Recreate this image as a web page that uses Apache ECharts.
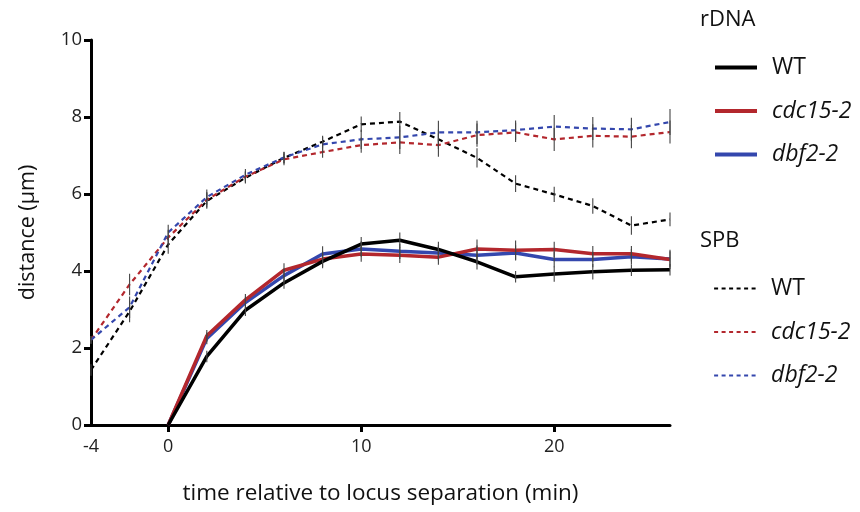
<!DOCTYPE html>
<html>
<head>
<meta charset="utf-8">
<script src="https://cdn.jsdelivr.net/npm/echarts@6/dist/echarts.min.js"></script>
<style>html,body{margin:0;padding:0;background:#fff}#c{width:860px;height:512px}</style>
</head>
<body>
<div id="c"></div>
<script>
// ---- data ----
const spbTimes = [-4, -2, 0, 2, 4, 6, 8, 10, 12, 14, 16, 18, 20, 22, 24, 26];
const rdnaTimes = [0, 2, 4, 6, 8, 10, 12, 14, 16, 18, 20, 22, 24, 26];

const rdnaWT    = [0, 1.78, 2.98, 3.69, 4.25, 4.70, 4.80, 4.56, 4.24, 3.85, 3.92, 3.98, 4.02, 4.03];
const rdnaCdc15 = [0, 2.32, 3.25, 4.02, 4.31, 4.44, 4.41, 4.36, 4.57, 4.54, 4.56, 4.45, 4.45, 4.30];
const rdnaDbf2  = [0, 2.25, 3.18, 3.88, 4.44, 4.57, 4.51, 4.47, 4.41, 4.47, 4.30, 4.30, 4.37, 4.31];

const spbWT    = [1.43, 2.95, 4.69, 5.82, 6.42, 6.94, 7.36, 7.81, 7.88, 7.42, 6.94, 6.27, 5.99, 5.69, 5.18, 5.34];
const spbCdc15 = [2.21, 3.65, 4.87, 5.85, 6.45, 6.90, 7.09, 7.27, 7.34, 7.27, 7.53, 7.60, 7.42, 7.51, 7.49, 7.61];
const spbDbf2  = [2.21, 3.06, 5.00, 5.92, 6.50, 6.95, 7.29, 7.42, 7.47, 7.60, 7.60, 7.66, 7.75, 7.70, 7.68, 7.87];

// error half-widths (estimated)
const rdnaWTErr    = [0, 0.15, 0.15, 0.15, 0.18, 0.18, 0.2, 0.2, 0.2, 0.15, 0.2, 0.2, 0.15, 0.15];
const rdnaCdc15Err = [0, 0.15, 0.15, 0.18, 0.2, 0.2, 0.2, 0.2, 0.25, 0.25, 0.2, 0.2, 0.2, 0.25];
const rdnaDbf2Err  = [0, 0.15, 0.15, 0.18, 0.2, 0.2, 0.2, 0.2, 0.25, 0.2, 0.2, 0.2, 0.2, 0.2];
const spbWTErr    = [0.15, 0.28, 0.24, 0.2, 0.15, 0.15, 0.15, 0.2, 0.25, 0.25, 0.25, 0.22, 0.2, 0.2, 0.24, 0.18];
const spbCdc15Err = [0.1, 0.28, 0.2, 0.2, 0.15, 0.15, 0.15, 0.2, 0.3, 0.3, 0.3, 0.25, 0.3, 0.3, 0.3, 0.3];
const spbDbf2Err  = [0.1, 0.28, 0.2, 0.2, 0.15, 0.15, 0.2, 0.25, 0.3, 0.3, 0.3, 0.25, 0.3, 0.3, 0.3, 0.34];

const xLabelValues = [-4, 0, 10, 20];
const xTickValues = [0, 10, 20];

const BLACK = '#000000', RED = '#b3272d', BLUE = '#3447ad';
const FONT = 'Open Sans';

function pairs(xs, ys) { return xs.map((x, i) => [x, ys[i]]); }
function errData(xs, ys, es) { return xs.map((x, i) => [x, ys[i] - es[i], ys[i] + es[i]]); }

function lineSeries(name, xs, ys, color, dashed) {
  return {
    name: name, type: 'line', data: pairs(xs, ys), symbol: 'none', showSymbol: false,
    z: 3,
    lineStyle: dashed ? { color: color, width: 2.2, type: [5, 4] } : { color: color, width: 3.5 },
    itemStyle: { color: color },
    emphasis: { disabled: true }
  };
}
function errSeries(xs, ys, es) {
  return {
    type: 'custom', data: errData(xs, ys, es), z: 4, silent: true,
    renderItem: function (params, api) {
      const lo = api.coord([api.value(0), api.value(1)]);
      const hi = api.coord([api.value(0), api.value(2)]);
      return { type: 'line', shape: { x1: lo[0], y1: lo[1], x2: hi[0], y2: hi[1] },
               style: { stroke: '#444', lineWidth: 1.1 } };
    }
  };
}

const legendText = {
  fontFamily: FONT, fontSize: 23, color: '#111', padding: [0, 0, 0, 10],
  rich: { i: { fontFamily: FONT, fontSize: 23, fontStyle: 'italic', color: '#111' } }
};
function legendFmt(name) {
  const n = name.split(' ')[1];
  return n === 'WT' ? n : '{i|' + n + '}';
}

const chart = echarts.init(document.getElementById('c'));
chart.setOption({
  animation: false,
  backgroundColor: '#fff',
  title: [
    { text: 'rDNA', left: 695, top: 4, textStyle: { fontFamily: FONT, fontSize: 22, fontWeight: 'normal', color: '#111' } },
    { text: 'SPB', left: 695, top: 225, textStyle: { fontFamily: FONT, fontSize: 22, fontWeight: 'normal', color: '#111' } }
  ],
  legend: [
    { data: ['rDNA WT', 'rDNA cdc15-2', 'rDNA dbf2-2'], orient: 'vertical', left: 708, top: 51,
      itemWidth: 42, itemHeight: 24, itemGap: 20.5, formatter: legendFmt, textStyle: legendText,
      itemStyle: { opacity: 0 }, lineStyle: { width: 4 }, selectedMode: false },
    { data: ['SPB WT', 'SPB cdc15-2', 'SPB dbf2-2'], orient: 'vertical', left: 708, top: 272,
      itemWidth: 42, itemHeight: 24, itemGap: 20.5, formatter: legendFmt, textStyle: legendText,
      itemStyle: { opacity: 0 }, lineStyle: { width: 2.2, type: [4, 3.5] }, selectedMode: false }
  ],
  grid: { left: 91, right: 190, top: 40, bottom: 87 },
  xAxis: {
    type: 'value', min: -4, max: 26,
    name: 'time relative to locus separation (min)', nameLocation: 'middle', nameGap: 57,
    nameTextStyle: { fontFamily: FONT, fontSize: 22.5, color: '#111' },
    axisLine: { onZero: false, lineStyle: { color: '#000', width: 3 } },
    axisTick: { show: true, customValues: xTickValues, length: 7, lineStyle: { color: '#000', width: 3 } },
    axisLabel: { customValues: xLabelValues, fontFamily: FONT, fontSize: 18, color: '#222', margin: 13 },
    splitLine: { show: false }
  },
  yAxis: {
    type: 'value', min: 0, max: 10, interval: 2,
    name: 'distance (µm)', nameLocation: 'middle', nameGap: 52,
    nameTextStyle: { fontFamily: FONT, fontSize: 21.5, color: '#111' },
    axisLine: { show: true, onZero: false, lineStyle: { color: '#000', width: 3 } },
    axisTick: { show: true, length: 7, lineStyle: { color: '#000', width: 3 } },
    axisLabel: { fontFamily: FONT, fontSize: 18.5, color: '#222', margin: 9 },
    splitLine: { show: false }
  },
  series: [
    lineSeries('SPB WT', spbTimes, spbWT, BLACK, true),
    lineSeries('SPB cdc15-2', spbTimes, spbCdc15, RED, true),
    lineSeries('SPB dbf2-2', spbTimes, spbDbf2, BLUE, true),
    lineSeries('rDNA dbf2-2', rdnaTimes, rdnaDbf2, BLUE, false),
    lineSeries('rDNA cdc15-2', rdnaTimes, rdnaCdc15, RED, false),
    lineSeries('rDNA WT', rdnaTimes, rdnaWT, BLACK, false),
    errSeries(spbTimes, spbWT, spbWTErr),
    errSeries(spbTimes, spbCdc15, spbCdc15Err),
    errSeries(spbTimes, spbDbf2, spbDbf2Err),
    errSeries(rdnaTimes, rdnaWT, rdnaWTErr),
    errSeries(rdnaTimes, rdnaCdc15, rdnaCdc15Err),
    errSeries(rdnaTimes, rdnaDbf2, rdnaDbf2Err)
  ]
});
</script>
</body>
</html>
